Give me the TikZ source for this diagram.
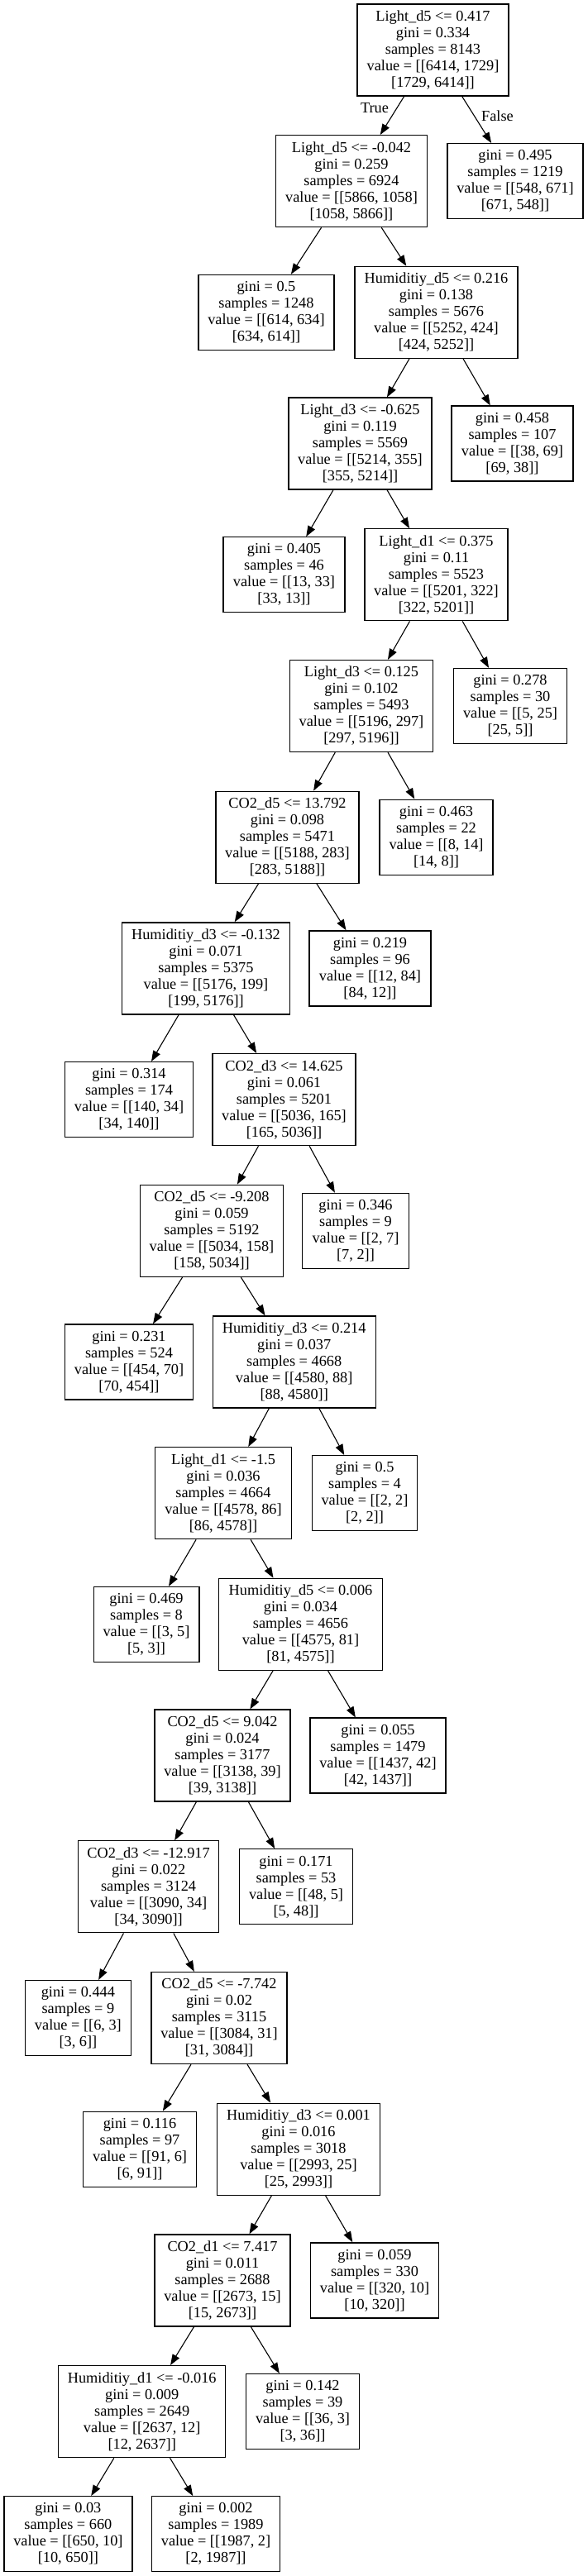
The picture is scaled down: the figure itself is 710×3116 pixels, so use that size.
\documentclass[tikz,border=0pt]{standalone}
\usepackage{fontspec}
\newfontfamily\gvfont{Liberation Serif}
\usetikzlibrary{arrows.meta}
\begin{document}
\begin{tikzpicture}[x=1pt,y=1pt,
  box/.style={draw=black, line width=1.3pt, inner sep=0pt, align=center,
    font={\gvfont\fontsize{18.3}{20}\selectfont}},
  inode/.style={box, minimum height=111pt},
  leaf/.style={box, minimum height=91pt},
  elabel/.style={inner sep=0pt, font={\gvfont\fontsize{18.3}{20}\selectfont}},
  edge/.style={line width=1.1pt, -{Triangle[length=13pt,width=9.5pt]}}]
\useasboundingbox (0,0) rectangle (710,-3116);
\fill[white] (0,0) rectangle (710,-3116);

\node[inode, minimum width=183pt] (n0) at (523.5,-60.5) {Light\_d5 <= 0.417\\gini = 0.334\\samples = 8143\\value = [[6414, 1729]\\{}[1729, 6414]]};
\node[inode, minimum width=183pt] (n1) at (425,-219.2) {Light\_d5 <= -0.042\\gini = 0.259\\samples = 6924\\value = [[5866, 1058]\\{}[1058, 5866]]};
\node[leaf, minimum width=164pt] (n2) at (623,-219.2) {gini = 0.495\\samples = 1219\\value = [[548, 671]\\{}[671, 548]]};
\node[leaf, minimum width=164pt] (n3) at (322,-377.9) {gini = 0.5\\samples = 1248\\value = [[614, 634]\\{}[634, 614]]};
\node[inode, minimum width=197pt] (n4) at (527.5,-377.9) {Humiditiy\_d5 <= 0.216\\gini = 0.138\\samples = 5676\\value = [[5252, 424]\\{}[424, 5252]]};
\node[inode, minimum width=173pt] (n5) at (435.5,-536.6) {Light\_d3 <= -0.625\\gini = 0.119\\samples = 5569\\value = [[5214, 355]\\{}[355, 5214]]};
\node[leaf, minimum width=147pt] (n6) at (619.5,-536.6) {gini = 0.458\\samples = 107\\value = [[38, 69]\\{}[69, 38]]};
\node[leaf, minimum width=147pt] (n7) at (343.5,-695.3) {gini = 0.405\\samples = 46\\value = [[13, 33]\\{}[33, 13]]};
\node[inode, minimum width=173pt] (n8) at (527.5,-695.3) {Light\_d1 <= 0.375\\gini = 0.11\\samples = 5523\\value = [[5201, 322]\\{}[322, 5201]]};
\node[inode, minimum width=173pt] (n9) at (437,-854) {Light\_d3 <= 0.125\\gini = 0.102\\samples = 5493\\value = [[5196, 297]\\{}[297, 5196]]};
\node[leaf, minimum width=137.5pt] (n10) at (617,-854) {gini = 0.278\\samples = 30\\value = [[5, 25]\\{}[25, 5]]};
\node[inode, minimum width=173pt] (n11) at (347.5,-1012.7) {CO2\_d5 <= 13.792\\gini = 0.098\\samples = 5471\\value = [[5188, 283]\\{}[283, 5188]]};
\node[leaf, minimum width=137pt] (n12) at (527.5,-1012.7) {gini = 0.463\\samples = 22\\value = [[8, 14]\\{}[14, 8]]};
\node[inode, minimum width=202.5pt] (n13) at (249,-1171.4) {Humiditiy\_d3 <= -0.132\\gini = 0.071\\samples = 5375\\value = [[5176, 199]\\{}[199, 5176]]};
\node[leaf, minimum width=147pt] (n14) at (447.5,-1171.4) {gini = 0.219\\samples = 96\\value = [[12, 84]\\{}[84, 12]]};
\node[leaf, minimum width=155.5pt] (n15) at (156,-1330.1) {gini = 0.314\\samples = 174\\value = [[140, 34]\\{}[34, 140]]};
\node[inode, minimum width=173pt] (n16) at (343.5,-1330.1) {CO2\_d3 <= 14.625\\gini = 0.061\\samples = 5201\\value = [[5036, 165]\\{}[165, 5036]]};
\node[inode, minimum width=173.5pt] (n17) at (256,-1488.8) {CO2\_d5 <= -9.208\\gini = 0.059\\samples = 5192\\value = [[5034, 158]\\{}[158, 5034]]};
\node[leaf, minimum width=128.5pt] (n18) at (430,-1488.8) {gini = 0.346\\samples = 9\\value = [[2, 7]\\{}[7, 2]]};
\node[leaf, minimum width=155.5pt] (n19) at (156,-1647.5) {gini = 0.231\\samples = 524\\value = [[454, 70]\\{}[70, 454]]};
\node[inode, minimum width=197pt] (n20) at (355.7,-1647.5) {Humiditiy\_d3 <= 0.214\\gini = 0.037\\samples = 4668\\value = [[4580, 88]\\{}[88, 4580]]};
\node[inode, minimum width=164.5pt] (n21) at (270,-1806.2) {Light\_d1 <= -1.5\\gini = 0.036\\samples = 4664\\value = [[4578, 86]\\{}[86, 4578]]};
\node[leaf, minimum width=127.5pt] (n22) at (441,-1806.2) {gini = 0.5\\samples = 4\\value = [[2, 2]\\{}[2, 2]]};
\node[leaf, minimum width=127.7pt] (n23) at (177,-1964.9) {gini = 0.469\\samples = 8\\value = [[3, 5]\\{}[5, 3]]};
\node[inode, minimum width=197.7pt] (n24) at (363.5,-1964.9) {Humiditiy\_d5 <= 0.006\\gini = 0.034\\samples = 4656\\value = [[4575, 81]\\{}[81, 4575]]};
\node[inode, minimum width=164pt] (n25) at (269,-2123.6) {CO2\_d5 <= 9.042\\gini = 0.024\\samples = 3177\\value = [[3138, 39]\\{}[39, 3138]]};
\node[leaf, minimum width=164pt] (n26) at (457,-2123.6) {gini = 0.055\\samples = 1479\\value = [[1437, 42]\\{}[42, 1437]]};
\node[inode, minimum width=170pt] (n27) at (179.6,-2282.3) {CO2\_d3 <= -12.917\\gini = 0.022\\samples = 3124\\value = [[3090, 34]\\{}[34, 3090]]};
\node[leaf, minimum width=137pt] (n28) at (358,-2282.3) {gini = 0.171\\samples = 53\\value = [[48, 5]\\{}[5, 48]]};
\node[leaf, minimum width=128pt] (n29) at (94.4,-2441) {gini = 0.444\\samples = 9\\value = [[6, 3]\\{}[3, 6]]};
\node[inode, minimum width=164pt] (n30) at (265,-2441) {CO2\_d5 <= -7.742\\gini = 0.02\\samples = 3115\\value = [[3084, 31]\\{}[31, 3084]]};
\node[leaf, minimum width=137.5pt] (n31) at (169,-2599.7) {gini = 0.116\\samples = 97\\value = [[91, 6]\\{}[6, 91]]};
\node[inode, minimum width=197pt] (n32) at (361,-2599.7) {Humiditiy\_d3 <= 0.001\\gini = 0.016\\samples = 3018\\value = [[2993, 25]\\{}[25, 2993]]};
\node[inode, minimum width=164pt] (n33) at (269,-2758.4) {CO2\_d1 <= 7.417\\gini = 0.011\\samples = 2688\\value = [[2673, 15]\\{}[15, 2673]]};
\node[leaf, minimum width=155pt] (n34) at (453,-2758.4) {gini = 0.059\\samples = 330\\value = [[320, 10]\\{}[10, 320]]};
\node[inode, minimum width=202pt] (n35) at (171.7,-2917.1) {Humiditiy\_d1 <= -0.016\\gini = 0.009\\samples = 2649\\value = [[2637, 12]\\{}[12, 2637]]};
\node[leaf, minimum width=137.5pt] (n36) at (366,-2917.1) {gini = 0.142\\samples = 39\\value = [[36, 3]\\{}[3, 36]]};
\node[leaf, minimum width=155pt] (n37) at (82.4,-3065.2) {gini = 0.03\\samples = 660\\value = [[650, 10]\\{}[10, 650]]};
\node[leaf, minimum width=155pt] (n38) at (261,-3065.2) {gini = 0.002\\samples = 1989\\value = [[1987, 2]\\{}[2, 1987]]};

\foreach \p/\a/\b in {n0/n1/n2, n1/n3/n4, n4/n5/n6, n5/n7/n8, n8/n9/n10,
  n9/n11/n12, n11/n13/n14, n13/n15/n16, n16/n17/n18, n17/n19/n20,
  n20/n21/n22, n21/n23/n24, n24/n25/n26, n25/n27/n28, n27/n29/n30,
  n30/n31/n32, n32/n33/n34, n33/n35/n36, n35/n37/n38}{
  \draw[edge] (\p) -- (\a);
  \draw[edge] (\p) -- (\b);
}

\node[elabel] (ltrue) at (453,-130.7) {True};
\node[elabel] (lfalse) at (601.5,-140.7) {False};
\end{tikzpicture}
\end{document}
